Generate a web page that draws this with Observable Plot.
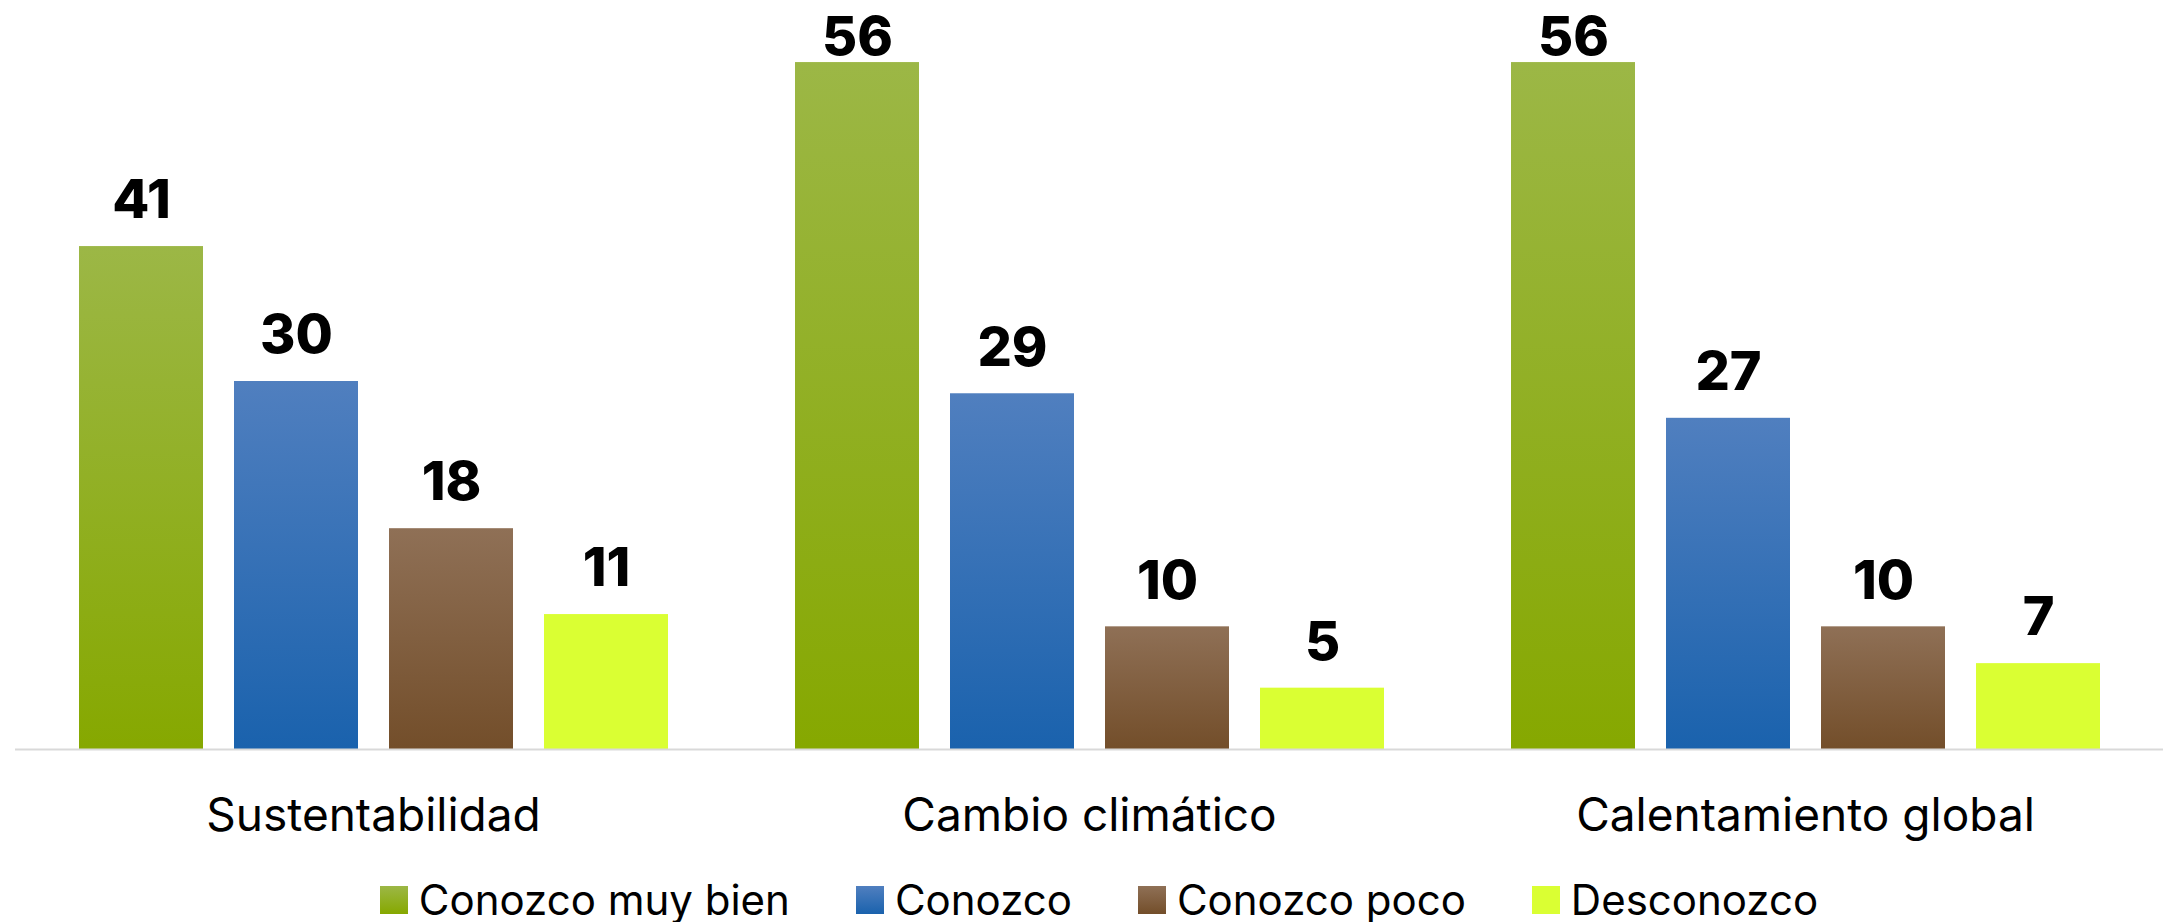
<!DOCTYPE html>
<html>
<head>
<meta charset="utf-8">
<script src="https://cdn.jsdelivr.net/npm/d3@7"></script>
<script src="https://cdn.jsdelivr.net/npm/@observablehq/plot@0.6"></script>
<style>
  html, body { margin: 0; padding: 0; background: #fff; }
  #chart { width: 2164px; }
  #legend { display: flex; justify-content: center; align-items: center; gap: 66px;
    font-family: Inter, "Open Sans", sans-serif; font-size: 42px; color: #000;
    padding-left: 34px; margin-top: 18px; width: 2130px; }
  .item { display: flex; align-items: center; }
  .sw { width: 28px; height: 28px; margin-right: 11px; display: inline-block; }
  g[aria-label="fx-axis tick label"] text, g[aria-label="fx-axis tick label"] { font-size: 46px; }
</style>
</head>
<body>
<div id="chart"></div>
<script>
// ---- data ----
const categories = ["Sustentabilidad", "Cambio climático", "Calentamiento global"];
const seriesNames = ["Conozco muy bien", "Conozco", "Conozco poco", "Desconozco"];
const conozcoMuyBien = [41, 56, 56];
const conozco = [30, 29, 27];
const conozcoPoco = [18, 10, 10];
const desconozco = [11, 5, 7];

// ---- styles ----
const gradients = [
  ["#9CB746", "#86A800"],
  ["#507FBF", "#1A62AD"],
  ["#8F7056", "#734E2A"],
  ["#DAFF33", "#DAFF33"]
];
const labelOffset = 2.3;   // label gap above bar, in data units
const labelMax = 56.6;     // labels pushed down to stay inside the frame

const valuesBySeries = [conozcoMuyBien, conozco, conozcoPoco, desconozco];
const table = [];
categories.forEach((c, i) => {
  seriesNames.forEach((s, j) => {
    table.push({topic: c, series: s, value: valuesBySeries[j][i]});
  });
});
const gradId = s => `url(#grad${seriesNames.indexOf(s)})`;

const plot = Plot.plot({
  width: 2164,
  height: 856,
  marginTop: 13,
  marginBottom: 107,
  marginLeft: 14,
  marginRight: 0,
  style: {fontSize: "46px", fontFamily: "Inter, 'Open Sans', sans-serif", color: "#000", background: "#fff"},
  facet: {data: table, x: "topic"},
  fx: {domain: categories, padding: 0, label: null, axis: "bottom", tickSize: 0, tickPadding: 49},
  x: {domain: seriesNames, paddingInner: 0.2, paddingOuter: 0.4, axis: null},
  y: {domain: [0, 60], axis: null},
  color: {type: "identity"},
  marks: [
    Plot.barY(table, {x: "series", y: "value", fill: d => gradId(d.series)}),
    Plot.ruleY([0], {stroke: "#D9D9D9", strokeWidth: 2}),
    Plot.text(table, {x: "series", y: d => Math.min(d.value + labelOffset, labelMax),
      text: d => String(d.value), lineAnchor: "bottom",
      fontSize: 54, fontWeight: 800, fill: "#000"})
  ]
});

const defs = d3.select(plot).insert("defs", ":first-child");
gradients.forEach((g, i) => {
  const lg = defs.append("linearGradient").attr("id", `grad${i}`)
    .attr("x1", 0).attr("y1", 0).attr("x2", 0).attr("y2", 1);
  lg.append("stop").attr("offset", "0%").attr("stop-color", g[0]);
  lg.append("stop").attr("offset", "100%").attr("stop-color", g[1]);
});
document.getElementById("chart").appendChild(plot);

const legend = document.createElement("div");
legend.id = "legend";
seriesNames.forEach((s, i) => {
  const item = document.createElement("div");
  item.className = "item";
  const sw = document.createElement("span");
  sw.className = "sw";
  sw.style.background = `linear-gradient(to bottom, ${gradients[i][0]}, ${gradients[i][1]})`;
  const t = document.createElement("span");
  t.textContent = s;
  item.appendChild(sw);
  item.appendChild(t);
  legend.appendChild(item);
});
document.body.appendChild(legend);
</script>
</body>
</html>
